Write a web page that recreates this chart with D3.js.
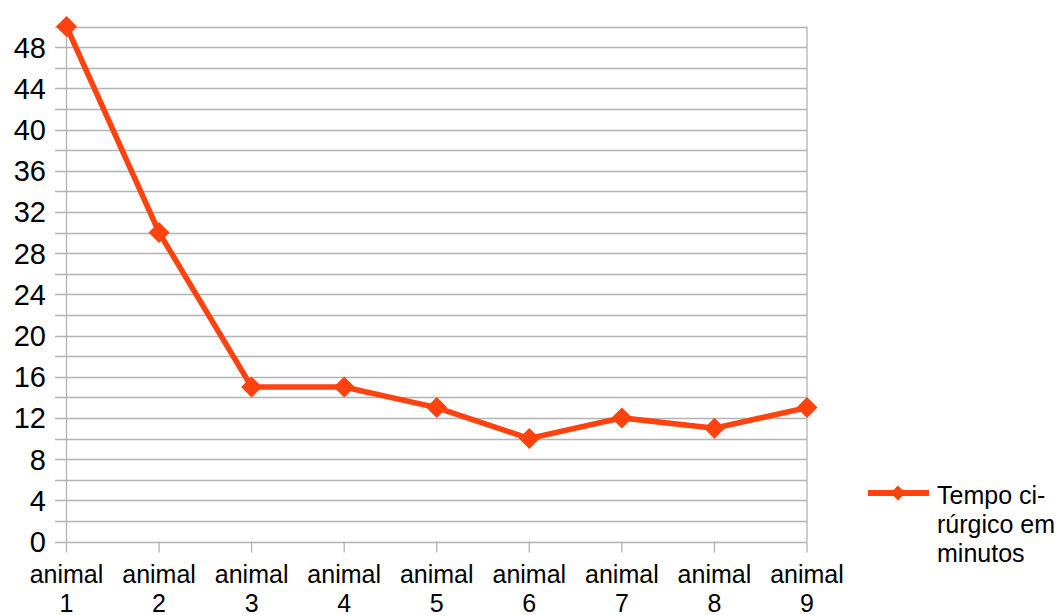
<!DOCTYPE html>
<html>
<head>
<meta charset="utf-8">
<script src="https://cdn.jsdelivr.net/npm/d3@7"></script>
<style>
  html, body { margin: 0; padding: 0; background: #fff; }
  svg { display: block; font-family: "Liberation Sans", Arial, sans-serif; }
</style>
</head>
<body>
<svg id="chart" width="1058" height="615"></svg>
<script>
// Surgical time per animal (minutes)
const categories = ["animal 1", "animal 2", "animal 3", "animal 4", "animal 5",
                    "animal 6", "animal 7", "animal 8", "animal 9"];
const tempoCirurgico = [50, 30, 15, 15, 13, 10, 12, 11, 13];
const yTickLabels = [0, 4, 8, 12, 16, 20, 24, 28, 32, 36, 40, 44, 48];
const yGridValues = d3.range(0, 51, 2);
const seriesName = ["Tempo ci-", "rúrgico em", "minutos"];

const lineColor = "#ff420e";
const gridColor = "#b3b3b3";

const svg = d3.select("#chart");

const x = d3.scalePoint().domain(categories).range([66.5, 807]).padding(0);
const y = d3.scaleLinear().domain([0, 50]).range([541.5, 26.5]);

// Horizontal gridlines (also act as the left tick marks)
svg.append("g")
  .selectAll("line")
  .data(yGridValues)
  .join("line")
  .attr("x1", 55)
  .attr("x2", 807)
  .attr("y1", d => Math.round(y(d)) + 0.5)
  .attr("y2", d => Math.round(y(d)) + 0.5)
  .attr("stroke", gridColor)
  .attr("stroke-width", 1.3);

// Category tick marks below the baseline
svg.append("g")
  .selectAll("line")
  .data(categories)
  .join("line")
  .attr("x1", d => x(d))
  .attr("x2", d => x(d))
  .attr("y1", y(0))
  .attr("y2", y(0) + 11)
  .attr("stroke", gridColor)
  .attr("stroke-width", 1.3);

// Left axis and right border
svg.append("line")
  .attr("x1", x(categories[0])).attr("x2", x(categories[0]))
  .attr("y1", y(50)).attr("y2", y(0))
  .attr("stroke", gridColor).attr("stroke-width", 1.3);
svg.append("line")
  .attr("x1", x(categories[categories.length - 1])).attr("x2", x(categories[categories.length - 1]))
  .attr("y1", y(50)).attr("y2", y(0))
  .attr("stroke", gridColor).attr("stroke-width", 1.3);

// Y labels
svg.append("g")
  .selectAll("text")
  .data(yTickLabels)
  .join("text")
  .attr("x", 46)
  .attr("y", d => y(d))
  .attr("dy", "0.36em")
  .attr("text-anchor", "end")
  .attr("font-size", 29)
  .attr("fill", "#000")
  .text(d => d);

// X labels (two lines each)
const xl = svg.append("g")
  .selectAll("text")
  .data(categories)
  .join("text")
  .attr("text-anchor", "middle")
  .attr("font-size", 25)
  .attr("fill", "#000");
xl.each(function(d) {
  const parts = d.split(" ");
  const t = d3.select(this);
  parts.forEach((p, i) => {
    t.append("tspan")
      .attr("x", x(d))
      .attr("y", 583 + i * 29)
      .text(p);
  });
});

// Series line
const line = d3.line()
  .x((d, i) => x(categories[i]))
  .y(d => y(d));

svg.append("path")
  .datum(tempoCirurgico)
  .attr("d", line)
  .attr("fill", "none")
  .attr("stroke", lineColor)
  .attr("stroke-width", 5.5)
  .attr("stroke-linejoin", "miter");

const diamond = d3.symbol().type(d3.symbolSquare).size(220);

svg.append("g")
  .selectAll("path")
  .data(tempoCirurgico)
  .join("path")
  .attr("d", diamond)
  .attr("transform", (d, i) => `translate(${x(categories[i])},${y(d)}) rotate(45)`)
  .attr("fill", lineColor);

// Legend
const lg = svg.append("g");
lg.append("line")
  .attr("x1", 868).attr("x2", 929)
  .attr("y1", 493).attr("y2", 493)
  .attr("stroke", lineColor).attr("stroke-width", 6);
lg.append("path")
  .attr("d", d3.symbol().type(d3.symbolSquare).size(110))
  .attr("transform", "translate(898,493) rotate(45)")
  .attr("fill", lineColor);
lg.append("text")
  .attr("font-size", 25)
  .attr("fill", "#000")
  .selectAll("tspan")
  .data(seriesName)
  .join("tspan")
  .attr("x", 937)
  .attr("y", (d, i) => 504 + i * 29)
  .text(d => d);
</script>
</body>
</html>
